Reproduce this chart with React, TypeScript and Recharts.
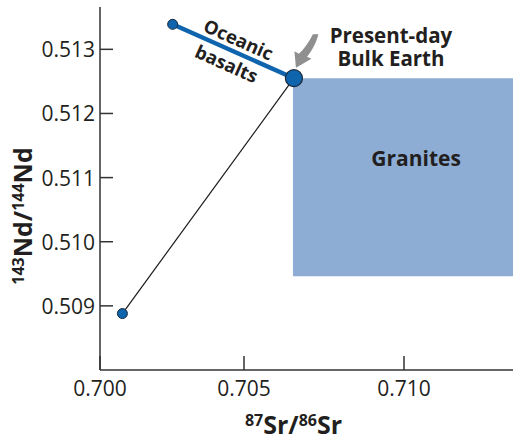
import React from 'react';
import {
  ComposedChart,
  Scatter,
  XAxis,
  YAxis,
  ReferenceArea,
  ReferenceDot,
} from 'recharts';

// 87Sr/86Sr vs 143Nd/144Nd
const EVOLUTION_SR = [0.7012, 0.70656];
const EVOLUTION_ND = [0.50888, 0.51255];
const BASALT_SR = [0.70277, 0.70656];
const BASALT_ND = [0.51339, 0.51255];
const BULK_EARTH_SR = [0.70656];
const BULK_EARTH_ND = [0.51255];
const GRANITE_SR = [0.70653, 0.715];
const GRANITE_ND = [0.50946, 0.51255];

const X_DOMAIN = [0.7005, 0.713406];
const Y_DOMAIN = [0.508, 0.51366];
const X_TICKS = [0.7005, 0.705, 0.71];
const X_TICK_LABELS = ['0.700', '0.705', '0.710'];
const Y_TICKS = [0.509, 0.51, 0.511, 0.512, 0.513];
const Y_TICK_LABELS = ['0.509', '0.510', '0.511', '0.512', '0.513'];

const FONT = '"Open Sans", "Noto Sans", sans-serif';
const AXIS = '#333';
const INK = '#231f20';
const BLUE = '#0f65ad';
const GRANITE = '#8eadd4';

const toPoints = (xs: number[], ys: number[]) => xs.map((sr, i) => ({ sr, nd: ys[i] }));

const evolution = toPoints(EVOLUTION_SR, EVOLUTION_ND);
const basalts = toPoints(BASALT_SR, BASALT_ND);
const bulkEarth = toPoints(BULK_EARTH_SR, BULK_EARTH_ND);
const smallDots = [evolution[0], basalts[0]];

const noDot = () => <g />;

const smallDot = (p: any) => (
  <circle cx={p.cx} cy={p.cy} r={5} fill={BLUE} stroke="#1b2a3a" strokeWidth={1} />
);

const bigDot = (p: any) => (
  <circle cx={p.cx} cy={p.cy} r={8.5} fill={BLUE} stroke="#1b2a3a" strokeWidth={1.2} />
);

const YTick = (p: any) => (
  <g>
    <line x1={p.x} x2={p.x + 13} y1={p.y} y2={p.y} stroke={AXIS} strokeWidth={1.5} />
    <text
      x={p.x - 5}
      y={p.y}
      textAnchor="end"
      dominantBaseline="central"
      fontFamily={FONT}
      fontSize={21}
      fill={INK}
    >
      {Y_TICK_LABELS[p.index]}
    </text>
  </g>
);

const XTick = (p: any) => (
  <g>
    <line x1={p.x} x2={p.x} y1={p.y - 14} y2={p.y} stroke={AXIS} strokeWidth={1.5} />
    <text x={p.x} y={p.y + 26} textAnchor="middle" fontFamily={FONT} fontSize={21} fill={INK}>
      {X_TICK_LABELS[p.index]}
    </text>
  </g>
);

const XTitle = (p: any) => {
  const vb = p.viewBox;
  return (
    <text
      x={vb.x + vb.width / 2 - 13}
      y={vb.y + 64}
      textAnchor="middle"
      fontFamily={FONT}
      fontWeight={700}
      fontSize={25}
      fill={INK}
    >
      <tspan fontSize={16} dy={-8}>87</tspan>
      <tspan dy={8}>Sr/</tspan>
      <tspan fontSize={16} dy={-8}>86</tspan>
      <tspan dy={8}>Sr</tspan>
    </text>
  );
};

const YTitle = () => (
  <text
    transform="translate(32,216) rotate(-90)"
    textAnchor="middle"
    fontFamily={FONT}
    fontWeight={700}
    fontSize={25}
    fill={INK}
  >
    <tspan fontSize={16} dy={-8}>143</tspan>
    <tspan dy={8}>Nd/</tspan>
    <tspan fontSize={16} dy={-8}>144</tspan>
    <tspan dy={8}>Nd</tspan>
  </text>
);

// arrow + caption hung off the bulk earth point
const BulkEarthNote = (p: any) => (
  <g transform={`translate(${p.cx},${p.cy})`}>
    <path
      d="M 24.5 -44 C 22 -34, 17 -26, 13 -21.5 L 17.5 -19.5 L 2 -10.5 L 0.5 -27 L 5 -24.5 C 10 -29, 15 -36, 19 -44 Z"
      fill="#8f8f8f"
    />
    <text textAnchor="middle" fontFamily={FONT} fontWeight={700} fontSize={20.5} fill={INK}>
      <tspan x={97} y={-35}>Present-day</tspan>
      <tspan x={97} y={-12}>Bulk Earth</tspan>
    </text>
  </g>
);

const BasaltNote = (p: any) => (
  <g transform={`translate(${p.cx},${p.cy}) rotate(24)`}>
    <text
      textAnchor="middle"
      dominantBaseline="central"
      fontFamily={FONT}
      fontWeight={700}
      fontSize={18.5}
      fill={INK}
    >
      <tspan x={0} y={-14}>Oceanic</tspan>
      <tspan x={-1} y={13}>basalts</tspan>
    </text>
  </g>
);

const GraniteNote = (p: any) => (
  <text
    x={p.cx}
    y={p.cy}
    textAnchor="middle"
    dominantBaseline="central"
    fontFamily={FONT}
    fontWeight={700}
    fontSize={21}
    fill={INK}
  >
    Granites
  </text>
);

export default function App() {
  return (
    <div style={{ position: 'absolute', left: 0, top: 0, background: '#fff' }}>
      <ComposedChart width={513} height={440} margin={{ top: 7, right: 0, bottom: 0, left: 0 }}>
        <XAxis
          xAxisId="top"
          orientation="top"
          type="number"
          dataKey="sr"
          domain={X_DOMAIN}
          allowDataOverflow
          height={0}
          tick={false}
          tickLine={false}
          axisLine={{ stroke: AXIS, strokeWidth: 1.5 }}
        />
        <XAxis
          type="number"
          dataKey="sr"
          domain={X_DOMAIN}
          allowDataOverflow
          ticks={X_TICKS}
          interval={0}
          height={70}
          tickSize={0}
          tickMargin={0}
          tickLine={false}
          tick={<XTick />}
          axisLine={{ stroke: AXIS, strokeWidth: 1.5 }}
          label={<XTitle />}
        />
        <YAxis
          type="number"
          dataKey="nd"
          domain={Y_DOMAIN}
          allowDataOverflow
          ticks={Y_TICKS}
          interval={0}
          width={100}
          tickSize={0}
          tickMargin={0}
          tickLine={false}
          tick={<YTick />}
          axisLine={{ stroke: AXIS, strokeWidth: 1.5 }}
          label={<YTitle />}
        />
        <ReferenceArea
          x1={GRANITE_SR[0]}
          x2={GRANITE_SR[1]}
          y1={GRANITE_ND[0]}
          y2={GRANITE_ND[1]}
          ifOverflow="hidden"
          fill={GRANITE}
          fillOpacity={1}
          stroke="none"
        />
        <Scatter
          data={evolution}
          line={{ stroke: '#1a1a1a', strokeWidth: 1.2 }}
          lineType="joint"
          shape={noDot}
          isAnimationActive={false}
        />
        <Scatter
          data={basalts}
          line={{ stroke: BLUE, strokeWidth: 4.5 }}
          lineType="joint"
          shape={noDot}
          isAnimationActive={false}
        />
        <Scatter data={smallDots} shape={smallDot} isAnimationActive={false} />
        <Scatter data={bulkEarth} shape={bigDot} isAnimationActive={false} />
        <ReferenceDot
          x={BULK_EARTH_SR[0]}
          y={BULK_EARTH_ND[0]}
          shape={BulkEarthNote}
        />
        <ReferenceDot
          x={(BASALT_SR[0] + BASALT_SR[1]) / 2}
          y={(BASALT_ND[0] + BASALT_ND[1]) / 2}
          shape={BasaltNote}
        />
        <ReferenceDot x={0.71038} y={0.51131} shape={GraniteNote} />
      </ComposedChart>
    </div>
  );
}
